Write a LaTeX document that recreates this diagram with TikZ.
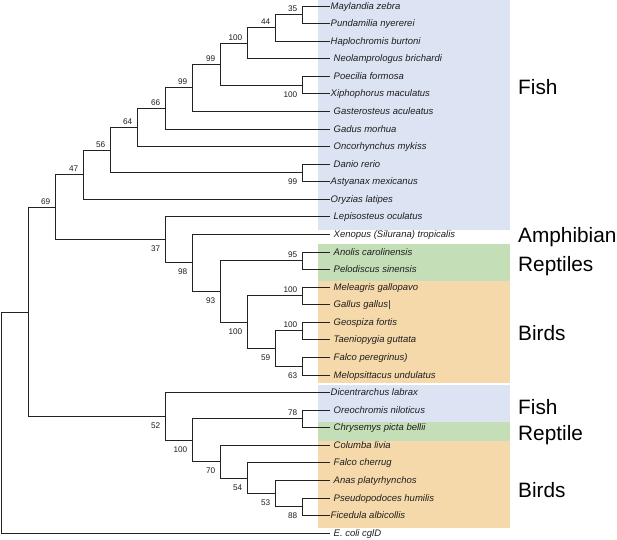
\documentclass[tikz,border=0pt]{standalone}
\usepackage{fontspec}
\setmainfont{Liberation Sans}
\definecolor{fishc}{RGB}{220,227,243}
\definecolor{reptc}{RGB}{196,222,183}
\definecolor{birdc}{RGB}{245,217,170}
\definecolor{linec}{RGB}{34,34,34}
\definecolor{txt}{RGB}{30,30,30}
\begin{document}
\begin{tikzpicture}[x=1pt,y=-1pt,
  branch/.style={line width=1.8pt, draw=linec},
  leaf/.style={anchor=base west, inner sep=0pt, font=\fontsize{9.5}{11}\selectfont\itshape, text=txt},
  bsa/.style={anchor=south east, inner sep=0pt, xshift=-5pt, yshift=2.5pt, font=\fontsize{8.2}{9}\selectfont, text=txt},
  bsb/.style={anchor=north east, inner sep=0pt, xshift=-5pt, yshift=-6.5pt, font=\fontsize{8.2}{9}\selectfont, text=txt},
  grp/.style={anchor=base west, inner sep=0pt, font=\fontsize{20.8}{24}\selectfont, text=black}]
\useasboundingbox (0,0) rectangle (617,539);
% background boxes
\fill[fishc] (318,0) rectangle (510,230);
\fill[reptc] (318,243.5) rectangle (510,281);
\fill[birdc] (318,281) rectangle (510,382.5);
\fill[fishc] (318,385) rectangle (510,422);
\fill[reptc] (318,422) rectangle (510,440.7);
\fill[birdc] (318,440.7) rectangle (510,528.3);
% leaves
\foreach \i/\y/\dx/\txt in {
 0/6.5/1/Maylandia zebra,
 1/23.5/1/Pundamilia nyererei,
 2/41.5/1/Haplochromis burtoni,
 3/58.5/4/Neolamprologus brichardi,
 4/76.5/4/Poecilia formosa,
 5/93.5/1/Xiphophorus maculatus,
 6/111.5/4/Gasterosteus aculeatus,
 7/129.5/4/Gadus morhua,
 8/146.5/4/Oncorhynchus mykiss,
 9/164.5/4/Danio rerio,
 10/181.5/1/Astyanax mexicanus,
 11/199.5/1/Oryzias latipes,
 12/216.5/4/Lepisosteus oculatus,
 13/234.5/4/Xenopus (Silurana) tropicalis,
 14/252.5/4/Anolis carolinensis,
 15/269.5/4/Pelodiscus sinensis,
 16/287.5/4/Meleagris gallopavo,
 17/304.5/4/Gallus gallus|,
 18/322.5/4/Geospiza fortis,
 19/339.5/4/Taeniopygia guttata,
 20/357.5/4/Falco peregrinus),
 21/375.5/4/Melopsittacus undulatus,
 22/392.5/1/Dicentrarchus labrax,
 23/410.5/4/Oreochromis niloticus,
 24/427.5/4/Chrysemys picta bellii,
 25/445.5/4/Columba livia,
 26/462.5/4/Falco cherrug,
 27/480.5/4/Anas platyrhynchos,
 28/498.5/4/Pseudopodoces humilis,
 29/515.5/1/Ficedula albicollis,
 30/533.5/4/E. coli cglD}{
  \coordinate (t\i) at (329.5,\y);
  \node[leaf] (l\i) at ([xshift=\dx pt, yshift=-3.4pt]t\i) {\txt};
}
% internal nodes
\coordinate (n35) at (302.5,14.5);
\coordinate (n44) at (275.5,27.5);
\coordinate (n100a) at (247.5,43.5);
\coordinate (n100b) at (302.5,85.5);
\coordinate (n99a) at (220.5,64.5);
\coordinate (n99b) at (192.5,87.5);
\coordinate (n66) at (165.5,108.5);
\coordinate (n64) at (137.5,127.5);
\coordinate (n99c) at (302.5,172.5);
\coordinate (n56) at (110.5,150.5);
\coordinate (n47) at (83.5,174.5);
\coordinate (n95) at (302.5,260.5);
\coordinate (n100c) at (302.5,295.5);
\coordinate (n100d) at (302.5,330.5);
\coordinate (n63) at (302.5,366.5);
\coordinate (n59) at (275.5,348.5);
\coordinate (n100e) at (247.5,322.5);
\coordinate (n93) at (220.5,291.5);
\coordinate (n98) at (192.5,262.5);
\coordinate (n37) at (165.5,239.5);
\coordinate (n69) at (55.5,207.5);
\coordinate (n78) at (302.5,418.5);
\coordinate (n88) at (302.5,506.5);
\coordinate (n53) at (275.5,493.5);
\coordinate (n54) at (247.5,478.5);
\coordinate (n70) at (220.5,461.5);
\coordinate (n100f) at (192.5,440.5);
\coordinate (n52) at (165.5,416.5);
\coordinate (nA) at (28.5,312.5);
\coordinate (root) at (1.5,423);
% branches
\foreach \p/\a/\b in {n35/t0/t1, n44/n35/t2, n100a/n44/t3, n100b/t4/t5,
  n99a/n100a/n100b, n99b/n99a/t6, n66/n99b/t7, n64/n66/t8, n99c/t9/t10,
  n56/n64/n99c, n47/n56/t11, n95/t14/t15, n100c/t16/t17, n100d/t18/t19,
  n63/t20/t21, n59/n100d/n63, n100e/n100c/n59, n93/n95/n100e, n98/t13/n93,
  n37/t12/n98, n69/n47/n37, n78/t23/t24, n88/t28/t29, n53/t27/n88,
  n54/t26/n53, n70/t25/n54, n100f/n78/n70, n52/t22/n100f, nA/n69/n52,
  root/nA/t30}{
  \draw[branch] (\a) -| (\p) |- (\b);
}
% bootstrap values
\node[bsa] (b35) at (n35) {35};
\node[bsa] (b44) at (n44) {44};
\node[bsa] (b100a) at (n100a) {100};
\node[bsa] (b99a) at (n99a) {99};
\node[bsa] (b99b) at (n99b) {99};
\node[bsa] (b66) at (n66) {66};
\node[bsa] (b64) at (n64) {64};
\node[bsa] (b56) at (n56) {56};
\node[bsa] (b47) at (n47) {47};
\node[bsa] (b69) at (n69) {69};
\node[bsa] (b95) at (n95) {95};
\node[bsa] (b100c) at (n100c) {100};
\node[bsa] (b100d) at (n100d) {100};
\node[bsa] (b78) at (n78) {78};
\node[bsb] (b100b) at (n100b) {100};
\node[bsb] (b99c) at (n99c) {99};
\node[bsb] (b37) at (n37) {37};
\node[bsb] (b98) at (n98) {98};
\node[bsb] (b93) at (n93) {93};
\node[bsb] (b100e) at (n100e) {100};
\node[bsb] (b59) at (n59) {59};
\node[bsb] (b63) at (n63) {63};
\node[bsb] (b52) at (n52) {52};
\node[bsb] (b100f) at (n100f) {100};
\node[bsb] (b70) at (n70) {70};
\node[bsb] (b54) at (n54) {54};
\node[bsb] (b53) at (n53) {53};
\node[bsb] (b88) at (n88) {88};
% group labels
\node[grp] (g1) at (518,94.7) {Fish};
\node[grp] (g2) at (518,242.5) {Amphibian};
\node[grp] (g3) at (518,271) {Reptiles};
\node[grp] (g4) at (518,340) {Birds};
\node[grp] (g5) at (518,414) {Fish};
\node[grp] (g6) at (518,440) {Reptile};
\node[grp] (g7) at (518,497.7) {Birds};
\end{tikzpicture}
\end{document}
